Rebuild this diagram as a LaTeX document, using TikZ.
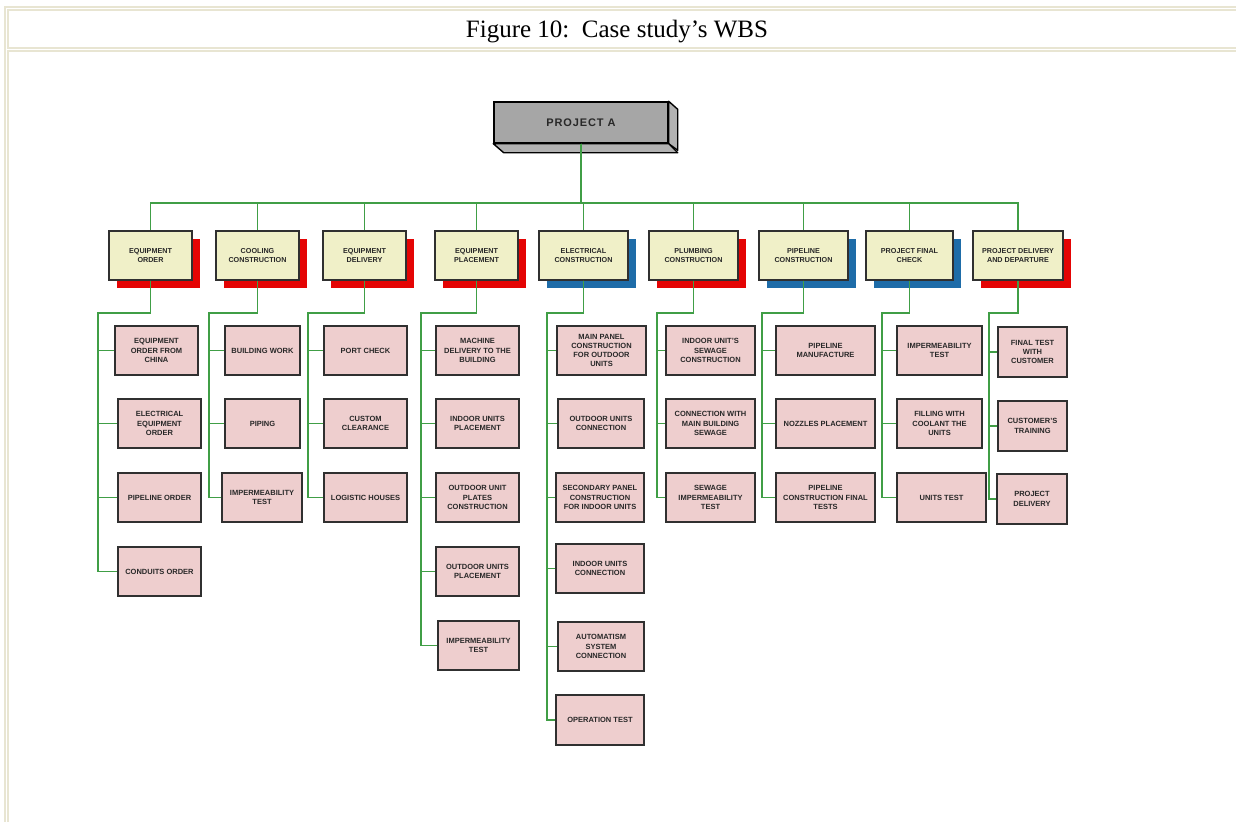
\documentclass[tikz,border=0pt]{standalone}
\usepackage{fontspec}
\setmainfont{Liberation Serif}
\setsansfont{Liberation Sans}
\usetikzlibrary{shadows}

\definecolor{framecol}{RGB}{232,229,210}
\definecolor{wirecol}{RGB}{64,158,70}
\definecolor{edgecol}{RGB}{48,48,48}
\definecolor{txtcol}{RGB}{40,40,40}
\definecolor{rootfill}{RGB}{166,166,166}
\definecolor{rootside}{RGB}{178,178,178}
\definecolor{phasefill}{RGB}{240,240,200}
\definecolor{taskfill}{RGB}{238,206,206}
\definecolor{shred}{RGB}{228,4,4}
\definecolor{shblue}{RGB}{30,108,168}

% box with corners x1..x2, y1..y2 (y grows downward)
\newcommand{\wbsbox}[7][]{%
  \node[#1, minimum width={(#4)-(#3)}, minimum height={(#6)-(#5)}]
    (#2) at ({((#3)+(#4))/2},{((#5)+(#6))/2}) {#7};}

\tikzset{
  wire/.style={draw=wirecol, line width=1.6pt},
  framel/.style={draw=framecol, line width=2pt},
  basebox/.style={draw=edgecol, line width=1.2pt, inner sep=1pt, align=center,
    text=txtcol, font=\sffamily\bfseries},
  phase/.style={basebox, fill=phasefill, font=\sffamily\bfseries\fontsize{7.2}{9.3}\selectfont},
  redphase/.style={phase, drop shadow={shadow xshift=8pt, shadow yshift=-8pt, fill=shred, opacity=1}},
  bluephase/.style={phase, drop shadow={shadow xshift=8pt, shadow yshift=-8pt, fill=shblue, opacity=1}},
  task/.style={basebox, fill=taskfill, font=\sffamily\bfseries\fontsize{7.5}{9.3}\selectfont},
  rootbox/.style={draw=black, line width=1.4pt, fill=rootfill, inner sep=0pt,
    font=\sffamily\bfseries\fontsize{11}{13}\selectfont\addfontfeature{LetterSpace=8}, text=txtcol},
  rootface/.style={draw=black, line width=1.4pt, fill=rootside, line join=round},
}

\begin{document}
\begin{tikzpicture}[x=1pt, y=-1pt]
\useasboundingbox (0,0) rectangle (1236,822);

% table frame
\draw[framel] (5,822) -- (5,6.5) -- (1236,6.5);
\draw[framel] (1236,48) -- (8,48) -- (8,10) -- (1236,10);
\draw[framel] (8,822) -- (8,51) -- (1236,51);

\node[anchor=base, font=\fontsize{25}{30}\selectfont] (title) at (617,37) {Figure 10:\ \ Case study’s WBS};

% top of the breakdown
\wbsbox[rootbox]{root}{494}{668}{102}{143}{PROJECT A}
\draw[rootface] (root.north east) -- ++(9,8) -- ++(0,41) -- (root.south east) -- cycle;
\draw[rootface] (root.south west) -- (root.south east) -- ++(9,9) -- ++(-174,0) -- cycle;

% phases
\wbsbox[redphase]{e1}{109}{192}{231}{280}{EQUIPMENT\\ORDER}
\wbsbox[redphase]{e2}{216}{299}{231}{280}{COOLING\\CONSTRUCTION}
\wbsbox[redphase]{e3}{323}{406}{231}{280}{EQUIPMENT\\DELIVERY}
\wbsbox[redphase]{e4}{435}{518}{231}{280}{EQUIPMENT\\PLACEMENT}
\wbsbox[bluephase]{e5}{539}{628}{231}{280}{ELECTRICAL\\CONSTRUCTION}
\wbsbox[redphase]{e6}{649}{738}{231}{280}{PLUMBING\\CONSTRUCTION}
\wbsbox[bluephase]{e7}{759}{848}{231}{280}{PIPELINE\\CONSTRUCTION}
\wbsbox[bluephase]{e8}{866}{953}{231}{280}{PROJECT FINAL\\CHECK}
\wbsbox[redphase]{e9}{973}{1063}{231}{280}{PROJECT DELIVERY\\AND DEPARTURE}

% work packages
\wbsbox[task]{a1}{115}{198}{326}{375}{EQUIPMENT\\ORDER FROM\\CHINA}
\wbsbox[task]{a2}{118}{201}{399}{448}{ELECTRICAL\\EQUIPMENT\\ORDER}
\wbsbox[task]{a3}{118}{201}{473}{522}{PIPELINE ORDER}
\wbsbox[task]{a4}{118}{201}{547}{596}{CONDUITS ORDER}

\wbsbox[task]{b1}{225}{300}{326}{375}{BUILDING WORK}
\wbsbox[task]{b2}{225}{300}{399}{448}{PIPING}
\wbsbox[task]{b3}{222}{302}{473}{522}{IMPERMEABILITY\\TEST}

\wbsbox[task]{d1}{324}{407}{326}{375}{PORT CHECK}
\wbsbox[task]{d2}{324}{407}{399}{448}{CUSTOM\\CLEARANCE}
\wbsbox[task]{d3}{324}{407}{473}{522}{LOGISTIC HOUSES}

\wbsbox[task]{f1}{436}{519}{326}{375}{MACHINE\\DELIVERY TO THE\\BUILDING}
\wbsbox[task]{f2}{436}{519}{399}{448}{INDOOR UNITS\\PLACEMENT}
\wbsbox[task]{f3}{436}{519}{473}{522}{OUTDOOR UNIT\\PLATES\\CONSTRUCTION}
\wbsbox[task]{f4}{436}{519}{547}{596}{OUTDOOR UNITS\\PLACEMENT}
\wbsbox[task]{f5}{438}{519}{621}{670}{IMPERMEABILITY\\TEST}

\wbsbox[task]{g1}{557}{646}{326}{375}{MAIN PANEL\\CONSTRUCTION\\FOR OUTDOOR\\UNITS}
\wbsbox[task]{g2}{558}{644}{399}{448}{OUTDOOR UNITS\\CONNECTION}
\wbsbox[task]{g3}{556}{644}{473}{522}{SECONDARY PANEL\\CONSTRUCTION\\FOR INDOOR UNITS}
\wbsbox[task]{g4}{556}{644}{544}{593}{INDOOR UNITS\\CONNECTION}
\wbsbox[task]{g5}{558}{644}{622}{671}{AUTOMATISM\\SYSTEM\\CONNECTION}
\wbsbox[task]{g6}{556}{644}{695}{745}{OPERATION TEST}

\wbsbox[task]{h1}{666}{755}{326}{375}{INDOOR UNIT’S\\SEWAGE\\CONSTRUCTION}
\wbsbox[task]{h2}{666}{755}{399}{448}{CONNECTION WITH\\MAIN BUILDING\\SEWAGE}
\wbsbox[task]{h3}{666}{755}{473}{522}{SEWAGE\\IMPERMEABILITY\\TEST}

\wbsbox[task]{i1}{776}{875}{326}{375}{PIPELINE\\MANUFACTURE}
\wbsbox[task]{i2}{776}{875}{399}{448}{NOZZLES PLACEMENT}
\wbsbox[task]{i3}{776}{875}{473}{522}{PIPELINE\\CONSTRUCTION FINAL\\TESTS}

\wbsbox[task]{j1}{897}{982}{326}{375}{IMPERMEABILITY\\TEST}
\wbsbox[task]{j2}{897}{982}{399}{448}{FILLING WITH\\COOLANT THE\\UNITS}
\wbsbox[task]{j3}{897}{986}{473}{522}{UNITS TEST}

\wbsbox[task]{k1}{998}{1067}{327}{377}{FINAL TEST\\WITH\\CUSTOMER}
\wbsbox[task]{k2}{998}{1067}{401}{451}{CUSTOMER’S\\TRAINING}
\wbsbox[task]{k3}{997}{1067}{474}{524}{PROJECT\\DELIVERY}

% connectors: root to phases
\coordinate (bus) at (0,203);
\foreach \p in {e1,e2,e3,e4,e5,e6,e7,e8,e9}
  \draw[wire] (root.south) -- (root.south |- bus) -| (\p.north);

% connectors: phases to work packages through a spine
\coordinate (s1) at (98,313);
\coordinate (s2) at (209,313);
\coordinate (s3) at (308,313);
\coordinate (s4) at (421,313);
\coordinate (s5) at (547,313);
\coordinate (s6) at (657,313);
\coordinate (s7) at (762,313);
\coordinate (s8) at (882,313);
\coordinate (s9) at (989,313);
\foreach \c in {a1,a2,a3,a4} \draw[wire] (e1.south) |- (s1) |- (\c.west);
\foreach \c in {b1,b2,b3} \draw[wire] (e2.south) |- (s2) |- (\c.west);
\foreach \c in {d1,d2,d3} \draw[wire] (e3.south) |- (s3) |- (\c.west);
\foreach \c in {f1,f2,f3,f4,f5} \draw[wire] (e4.south) |- (s4) |- (\c.west);
\foreach \c in {g1,g2,g3,g4,g5,g6} \draw[wire] (e5.south) |- (s5) |- (\c.west);
\foreach \c in {h1,h2,h3} \draw[wire] (e6.south) |- (s6) |- (\c.west);
\foreach \c in {i1,i2,i3} \draw[wire] (e7.south) |- (s7) |- (\c.west);
\foreach \c in {j1,j2,j3} \draw[wire] (e8.south) |- (s8) |- (\c.west);
\foreach \c in {k1,k2,k3} \draw[wire] (e9.south) |- (s9) |- (\c.west);
\end{tikzpicture}
\end{document}
